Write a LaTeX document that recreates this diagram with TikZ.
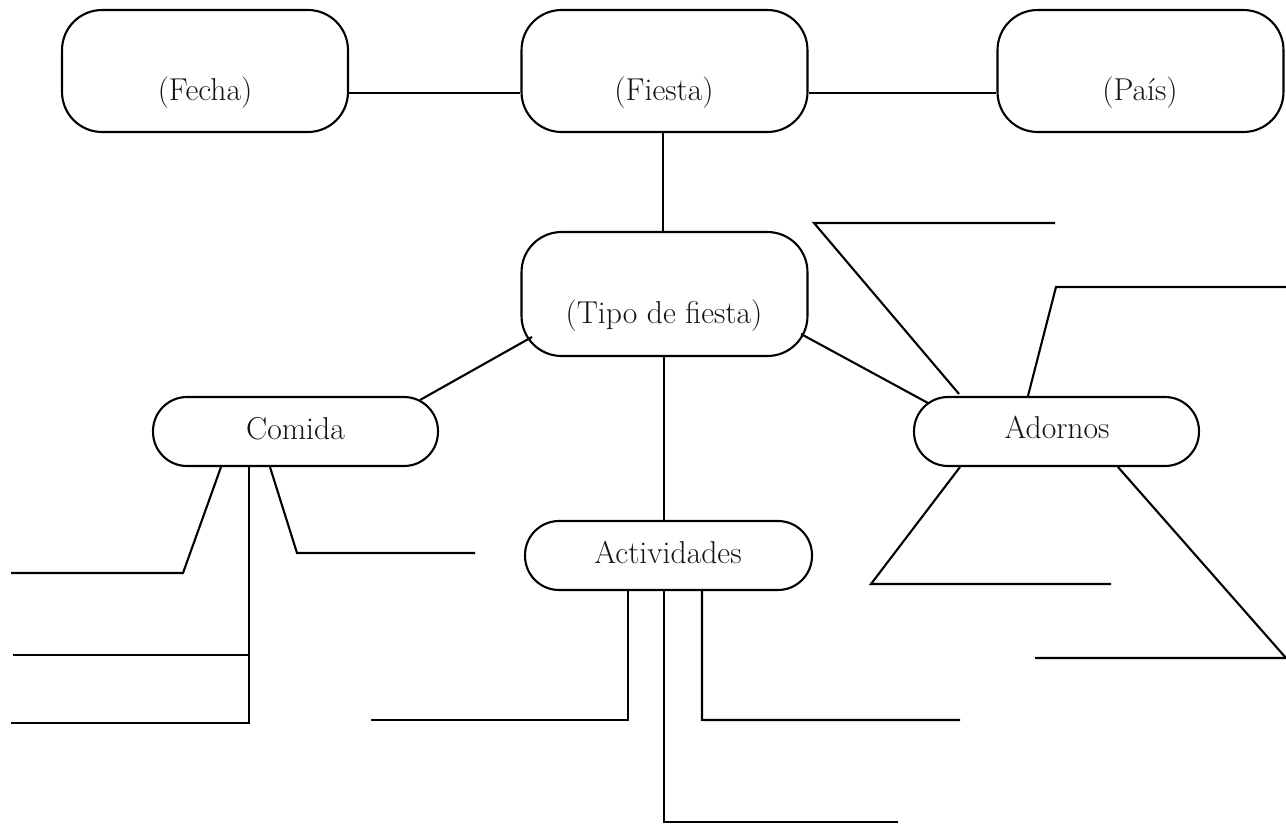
\documentclass[tikz,border=0pt]{standalone}
\usepackage{fontspec}
\usetikzlibrary{calc}
\begin{document}
\begin{tikzpicture}[x=0.02cm,y=-0.02cm,
  bigbox/.style={draw, line width=1.2pt, rounded corners=0.8cm, minimum width=5.72cm, minimum height=2.44cm, inner sep=0pt},
  pill/.style={draw, line width=1.2pt, rounded corners=0.68cm, minimum width=5.7cm, minimum height=1.38cm, inner sep=0pt},
  lbl/.style={anchor=base, inner sep=0pt, font=\fontsize{18}{21}\selectfont, text=black!92},
  wire/.style={draw, line width=1.2pt}]
\useasboundingbox (0,0) rectangle (1286,825);

% boxes
\node[bigbox] (fecha) at (205,71) {};
\node[bigbox] (fiesta) at (664.5,71) {};
\node[bigbox] (pais) at (1140.5,71) {};
\node[bigbox, minimum height=2.48cm] (tipo) at (664.5,294) {};
\node[pill] (comida) at (295.5,431.5) {};
\node[pill, minimum width=5.74cm] (activ) at (668.5,555.5) {};
\node[pill] (adornos) at (1056.5,431.5) {};

% labels
\node[lbl] (tfecha) at (205,100) {(Fecha)};
\node[lbl] (tfiesta) at (664,100) {(Fiesta)};
\node[lbl] (tpais) at (1140,100) {(País)};
\node[lbl] (ttipo) at (664,323) {(Tipo de fiesta)};
\node[lbl] (tcomida) at (295.5,439) {Comida};
\node[lbl] (tactiv) at (668,563) {Actividades};
\node[lbl] (tadornos) at (1057,438) {Adornos};

% free ends
\coordinate (c1) at (11,573);
\coordinate (c2) at (13,655);
\coordinate (c3) at (11,723);
\coordinate (c4) at (475,553);
\coordinate (a1) at (371,720);
\coordinate (a2) at (898,822);
\coordinate (a3) at (960,720);
\coordinate (d1) at (1055,223);
\coordinate (d2) at (1286,287);
\coordinate (d3) at (1111,584);
\coordinate (d4) at (1035,658);

% main connectors
\path[wire] ($(fecha.east)+(0,22)$) -- ($(fiesta.west)+(0,22)$);
\path[wire] ($(fiesta.east)+(0,22)$) -- ($(pais.west)+(0,22)$);
\path[wire] ($(fiesta.south)+(-1.5,0)$) -- ($(tipo.north)+(-1.5,0)$);
\path[wire] ($(tipo.center)+(-132.5,43)$) -- ($(comida.center)+(124.5,-31.5)$);
\path[wire] ($(tipo.center)+(136.5,40)$) -- ($(adornos.center)+(-128.5,-28.5)$);
\path[wire] ($(tipo.south)+(-0.5,0)$) -- ($(activ.north)+(-4.5,0)$);

% Comida branches
\path[wire] ($(comida.south)+(-74.5,0)$) -- (183,573) -- (c1);
\path[wire] ($(comida.south)+(-46.5,0)$) -- (c3 -| 249,0) -- (c3);
\path[wire] (c2 -| 249,0) -- (c2);
\path[wire] ($(comida.south)+(-25.5,0)$) -- (297,553) -- (c4);

% Actividades branches
\path[wire] ($(activ.south)+(-40.5,0)$) -- (628,720) -- (a1);
\path[wire] ($(activ.south)+(-4.5,0)$) -- (664,822) -- (a2);
\path[wire] ($(activ.south)+(33.5,0)$) -- (702,720) -- (a3);

% Adornos branches
\path[wire] ($(adornos.north)+(-97.5,-2)$) -- (814,223) -- (d1);
\path[wire] ($(adornos.north)+(-28.5,0)$) -- (1056,287) -- (d2);
\path[wire] ($(adornos.south)+(-96.5,0)$) -- (871,584) -- (d3);
\path[wire] ($(adornos.south)+(61.5,0)$) -- (1286,658) -- (d4);
\end{tikzpicture}
\end{document}
